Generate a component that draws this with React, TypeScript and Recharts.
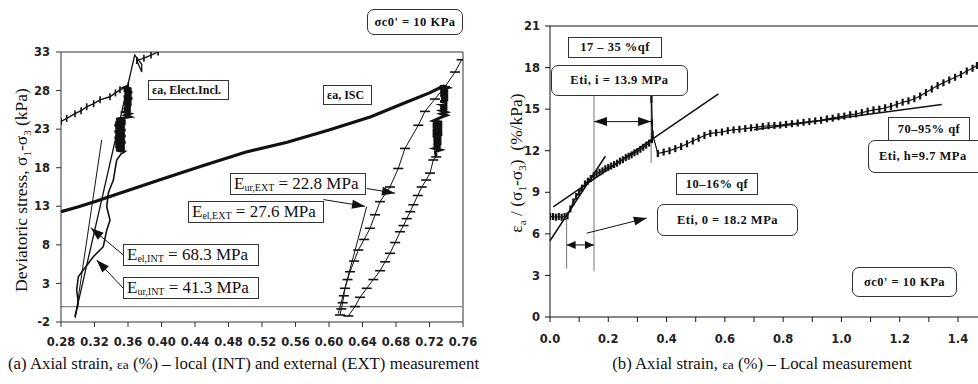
import React from 'react';
import { ComposedChart, ReferenceLine, Scatter, XAxis, YAxis } from 'recharts';

type Pt = { x: number; y: number };
type Seg = [[number, number], [number, number]];

const toPts = (rows: number[][]): Pt[] => rows.map(([x, y]) => ({ x, y }));

// ---------- (a) deviatoric stress vs axial strain ----------
const strainTicksA = [0.28, 0.32, 0.36, 0.4, 0.44, 0.48, 0.52, 0.56, 0.6, 0.64, 0.68, 0.72, 0.76];
const stressTicksA = [-2, 3, 8, 13, 18, 23, 28, 33];

// external (ISC) loading branch
const iscLoad = [
  [0.28, 12.3], [0.3, 12.9], [0.32, 13.6], [0.35, 14.7], [0.4, 16.5], [0.45, 18.3],
  [0.5, 20.0], [0.55, 21.3], [0.6, 22.9], [0.65, 24.6], [0.69, 26.4], [0.72, 27.7], [0.735, 28.5],
];
// inclinometer (INT) first loading, ticked
const inclLoad = [
  [0.28, 24.0], [0.2868, 24.4], [0.2967, 25.0], [0.304, 25.4], [0.3107, 25.9], [0.319, 26.3],
  [0.3266, 26.8], [0.3385, 27.2], [0.345, 27.7], [0.3504, 28.1], [0.3604, 28.6],
];
// INT creep at constant load
const inclCreep = [
  [0.3604, 28.6], [0.356, 28.4], [0.364, 28.2], [0.355, 28.0], [0.365, 27.8], [0.356, 27.6],
  [0.364, 27.4], [0.355, 27.2], [0.365, 27.0], [0.356, 26.8], [0.364, 26.6], [0.355, 26.4],
  [0.364, 26.2], [0.356, 26.0], [0.363, 25.8], [0.355, 25.6], [0.363, 25.4], [0.356, 25.2],
  [0.362, 25.0], [0.357, 24.8], [0.362, 24.6],
  [0.346, 24.3], [0.357, 24.1], [0.345, 23.9], [0.357, 23.7], [0.344, 23.5], [0.356, 23.3],
  [0.345, 23.1], [0.357, 22.9], [0.344, 22.7], [0.356, 22.5], [0.345, 22.3], [0.357, 22.1],
  [0.344, 21.9], [0.356, 21.7], [0.345, 21.5], [0.357, 21.3], [0.345, 21.1], [0.356, 20.9],
  [0.345, 20.7], [0.356, 20.5], [0.346, 20.3], [0.355, 20.1], [0.3525, 19.9],
];
// INT unloading
const inclUnload = [
  [0.3525, 19.9], [0.3465, 19.0], [0.3445, 17.7], [0.3425, 16.4], [0.3385, 15.3], [0.3365, 14.7],
  [0.3346, 12.95], [0.3385, 11.2], [0.3346, 9.9], [0.3305, 7.76], [0.3186, 6.47], [0.3066, 4.74],
  [0.3007, 3.87], [0.2987, 2.15], [0.3007, 0.42], [0.2967, -1.3],
];
// INT reloading up to the peak
const inclReload = [
  [0.2967, -1.3], [0.368, 32.6], [0.3764, 31.4], [0.3764, 30.4], [0.3705, 31.9],
];
const inclTop = [[0.3705, 31.9], [0.379, 32.2], [0.3875, 32.6], [0.396, 33.0]];

// ISC creep at peak load
const extCluster = [
  [0.7325, 28.5], [0.737, 28.6], [0.742, 28.4], [0.733, 28.2], [0.742, 28.0], [0.733, 27.8],
  [0.742, 27.6], [0.733, 27.4], [0.742, 27.2], [0.734, 27.0], [0.742, 26.8], [0.733, 26.6],
  [0.741, 26.4], [0.734, 26.2], [0.741, 26.0], [0.733, 25.8], [0.741, 25.6], [0.734, 25.4],
  [0.74, 25.2], [0.734, 25.0], [0.74, 24.8], [0.735, 24.6],
  [0.725, 24.1], [0.735, 23.9], [0.724, 23.7], [0.735, 23.5], [0.724, 23.3], [0.735, 23.1],
  [0.724, 22.9], [0.735, 22.7], [0.724, 22.5], [0.735, 22.3], [0.724, 22.1], [0.734, 21.9],
  [0.725, 21.7], [0.734, 21.5], [0.725, 21.3], [0.734, 21.1], [0.725, 20.9], [0.733, 20.7],
  [0.726, 20.5], [0.733, 20.3], [0.727, 20.1], [0.728, 19.4],
];
const extUnload = [
  [0.728, 19.4], [0.7245, 19.0], [0.7206, 17.3], [0.716, 16.4], [0.7107, 15.5], [0.706, 14.4],
  [0.7007, 13.2], [0.697, 12.3], [0.6928, 11.4], [0.689, 10.5], [0.6848, 9.7], [0.679, 8.3],
  [0.6728, 6.9], [0.667, 5.8], [0.661, 4.65], [0.653, 3.5], [0.645, 2.37], [0.637, 1.2],
  [0.631, 0.0], [0.623, -1.22],
];
const extReload = [
  [0.6131, -1.09], [0.6147, -0.3], [0.6163, 0.5], [0.6177, 1.4], [0.6191, 2.37], [0.6221, 3.5],
  [0.6251, 4.52], [0.63, 5.9], [0.635, 7.33], [0.642, 8.7], [0.649, 10.15], [0.655, 11.9],
  [0.6609, 13.6], [0.6728, 15.5], [0.6827, 17.9], [0.6907, 20.5], [0.7066, 23.5], [0.7146, 25.3],
  [0.7265, 26.9], [0.7385, 28.5], [0.7505, 30.4], [0.7584, 32.0],
];

const modulusLinesA: Seg[] = [
  [[0.297, -1.5], [0.3286, 21.6]],
  [[0.611, -0.9], [0.645, 12.95]],
];
const urExtLine: Seg = [[0.619, -1.3], [0.761, 32.8]];
const arrowsA: Seg[] = [
  [[0.645, 15.3], [0.6788, 14.7]],
  [[0.5932, 13.87], [0.643, 13.0]],
  [[0.3544, 6.69], [0.3155, 10.2]],
  [[0.3544, 2.37], [0.3226, 6.04]],
];

// ---------- (b) hyperbolic plot, local measurement ----------
const strainTicksB = [0, 0.1, 0.2, 0.3, 0.4, 0.5, 0.6, 0.7, 0.8, 0.9, 1.0, 1.1, 1.2, 1.3, 1.4];
const ratioTicksB = [0, 3, 6, 9, 12, 15, 18, 21];

const ratioData = [
  [0.0, 7.25], [0.01, 7.25], [0.02, 7.2], [0.03, 7.25], [0.04, 7.2], [0.05, 7.25], [0.06, 7.3],
  [0.07, 7.8], [0.08, 8.3], [0.09, 8.7], [0.1, 9.0], [0.11, 9.3], [0.12, 9.6], [0.13, 9.8],
  [0.14, 10.0], [0.15, 10.2], [0.16, 10.35], [0.17, 10.45], [0.18, 10.55], [0.19, 10.7],
  [0.2, 10.8], [0.21, 10.9], [0.22, 11.0], [0.23, 11.1], [0.24, 11.25], [0.25, 11.35],
  [0.26, 11.5], [0.27, 11.6], [0.28, 11.7], [0.29, 11.85], [0.3, 11.95], [0.31, 12.1],
  [0.32, 12.25], [0.33, 12.4], [0.34, 12.55], [0.35, 12.8], [0.35, 14.0], [0.348, 15.7],
  [0.348, 16.2], [0.352, 13.2], [0.37, 11.8], [0.39, 11.9], [0.41, 12.0], [0.43, 12.15],
  [0.45, 12.3], [0.47, 12.5], [0.49, 12.7], [0.51, 12.9], [0.53, 13.1], [0.55, 13.25],
  [0.57, 13.3], [0.59, 13.35], [0.61, 13.45], [0.63, 13.5], [0.65, 13.55], [0.67, 13.6],
  [0.69, 13.65], [0.71, 13.7], [0.73, 13.75], [0.75, 13.8], [0.77, 13.82], [0.79, 13.85],
  [0.81, 13.9], [0.83, 13.95], [0.85, 14.0], [0.87, 14.05], [0.89, 14.1], [0.91, 14.15],
  [0.93, 14.2], [0.95, 14.3], [0.97, 14.35], [0.99, 14.45], [1.01, 14.5], [1.03, 14.6],
  [1.05, 14.65], [1.07, 14.75], [1.09, 14.85], [1.11, 14.95], [1.13, 15.0], [1.15, 15.1],
  [1.17, 15.2], [1.19, 15.35], [1.21, 15.5], [1.23, 15.6], [1.25, 15.75], [1.27, 15.95],
  [1.29, 16.2], [1.31, 16.45], [1.33, 16.7], [1.35, 16.9], [1.37, 17.1], [1.39, 17.3],
  [1.41, 17.5], [1.43, 17.75], [1.45, 17.95], [1.465, 18.15],
];

const tangentsB: Seg[] = [
  [[0, 5.5], [0.19, 11.6]],
  [[0.011, 7.95], [0.578, 16.1]],
  [[0.7, 13.52], [1.344, 15.33]],
];
const guidesB: Seg[] = [
  [[0.057, 3.5], [0.057, 7.3]],
  [[0.151, 3.3], [0.151, 16.1]],
  [[0.347, 11.1], [0.347, 16.4]],
];
const spansB: Seg[] = [
  [[0.151, 14.1], [0.347, 14.1]],
  [[0.057, 5.2], [0.151, 5.2]],
];
const pointerB: Seg = [[0.126, 6.05], [0.332, 7.14]];

const INK = '#111';

const hTick = (p: any) => (
  <line x1={p.cx - 5} x2={p.cx + 5} y1={p.cy} y2={p.cy} stroke={INK} strokeWidth={1.6} />
);
const vTick = (p: any) => (
  <line x1={p.cx} x2={p.cx} y1={p.cy - 3.5} y2={p.cy + 3.5} stroke={INK} strokeWidth={1.6} />
);
const comb = (p: any) => (
  <line x1={p.cx} x2={p.cx} y1={p.cy - 3.5} y2={p.cy + 3.5} stroke={INK} strokeWidth={2.2} />
);
const noMark = () => <g />;

function arrow(both: boolean, len = 13, half = 4.5) {
  return (p: any) => {
    const { x1, y1, x2, y2 } = p;
    const head = (tx: number, ty: number, fx: number, fy: number) => {
      const a = Math.atan2(ty - fy, tx - fx);
      const bx = tx - len * Math.cos(a);
      const by = ty - len * Math.sin(a);
      const pts = `${tx},${ty} ${bx - half * Math.sin(a)},${by + half * Math.cos(a)} ${bx + half * Math.sin(a)},${by - half * Math.cos(a)}`;
      return <polygon points={pts} fill={INK} />;
    };
    return (
      <g>
        <line x1={x1} y1={y1} x2={x2} y2={y2} stroke={INK} strokeWidth={1} />
        {head(x2, y2, x1, y1)}
        {both && head(x1, y1, x2, y2)}
      </g>
    );
  };
}

const seg = (s: Seg) => [{ x: s[0][0], y: s[0][1] }, { x: s[1][0], y: s[1][1] }];

const tickFont = { fontFamily: 'DejaVu Sans', fontSize: 11.5, fontWeight: 'bold', fill: '#222' } as const;
const boxFont: React.CSSProperties = {
  fontFamily: 'Liberation Serif',
  fontWeight: 'bold',
  fontSize: 12.5,
  letterSpacing: 0.5,
  color: INK,
};

function Box(props: {
  left: number; top: number; width: number; height: number; round?: boolean;
  children: React.ReactNode; style?: React.CSSProperties;
}) {
  const { left, top, width, height, round, children, style } = props;
  return (
    <div
      style={{
        position: 'absolute', left, top, width, height, boxSizing: 'border-box',
        border: '1.5px solid #333', borderRadius: round ? 7 : 0, background: '#fff',
        display: 'flex', alignItems: 'center', justifyContent: 'center', whiteSpace: 'nowrap',
        ...boxFont, ...style,
      }}
    >
      {children}
    </div>
  );
}

function EBox(props: { left: number; top: number; sub: string; value: string }) {
  return (
    <Box
      left={props.left} top={props.top} width={136} height={22}
      style={{ fontFamily: 'Liberation Serif', fontWeight: 'normal', fontSize: 17, letterSpacing: 0, justifyContent: 'flex-start', paddingLeft: 3 }}
    >
      E<span style={{ fontSize: 10, position: 'relative', top: 3 }}>{props.sub}</span>
      &nbsp;= {props.value} MPa
    </Box>
  );
}

const rotLabel = (cx: number, cy: number): React.CSSProperties => ({
  position: 'absolute', left: cx, top: cy, transform: 'translate(-50%, -50%) rotate(-90deg)',
  whiteSpace: 'nowrap', fontFamily: 'Liberation Serif', fontSize: 17.5, color: INK,
});

const captionFont: React.CSSProperties = {
  position: 'absolute', top: 354, whiteSpace: 'nowrap', fontFamily: 'Liberation Serif', fontSize: 16.8, color: INK,
};

function PanelA() {
  return (
    <ComposedChart width={490} height={360} margin={{ top: 52, right: 27, bottom: 8, left: 0 }}>
      <XAxis
        type="number" dataKey="x" domain={[0.28, 0.76]} ticks={strainTicksA} interval={0}
        allowDataOverflow tick={tickFont} tickSize={5} tickMargin={11} height={30}
        stroke="#333" tickFormatter={(v: number) => v.toFixed(2)}
      />
      <YAxis
        type="number" dataKey="y" domain={[-2, 33]} ticks={stressTicksA} interval={0}
        allowDataOverflow tick={tickFont} tickSize={5} tickMargin={6} width={61} stroke="#333"
      />
      <ReferenceLine y={33} stroke="#333" />
      <ReferenceLine x={0.76} stroke="#333" />
      <ReferenceLine y={0} stroke="#888" strokeWidth={1.2} />
      {modulusLinesA.map((s, i) => (
        <ReferenceLine key={`m${i}`} segment={seg(s)} stroke={INK} strokeWidth={1} />
      ))}
      <ReferenceLine segment={seg(urExtLine)} stroke={INK} strokeWidth={1.8} />
      <Scatter data={toPts(iscLoad)} line={{ stroke: INK, strokeWidth: 3.2 }} shape={noMark} isAnimationActive={false} />
      <Scatter data={toPts(inclLoad)} line={{ stroke: INK, strokeWidth: 1.4 }} shape={vTick} isAnimationActive={false} />
      <Scatter data={toPts(inclCreep)} line={{ stroke: INK, strokeWidth: 3 }} shape={noMark} isAnimationActive={false} />
      <Scatter data={toPts(inclUnload)} line={{ stroke: INK, strokeWidth: 1.6 }} shape={noMark} isAnimationActive={false} />
      <Scatter data={toPts(inclReload)} line={{ stroke: INK, strokeWidth: 1.3 }} shape={noMark} isAnimationActive={false} />
      <Scatter data={toPts(inclTop)} line={{ stroke: INK, strokeWidth: 1.2 }} shape={vTick} isAnimationActive={false} />
      <Scatter data={toPts(extCluster)} line={{ stroke: INK, strokeWidth: 3 }} shape={noMark} isAnimationActive={false} />
      <Scatter data={toPts(extUnload)} line={{ stroke: INK, strokeWidth: 1 }} shape={hTick} isAnimationActive={false} />
      <Scatter data={toPts(extReload)} line={{ stroke: INK, strokeWidth: 1 }} shape={hTick} isAnimationActive={false} />
      {arrowsA.map((s, i) => (
        <ReferenceLine key={`a${i}`} segment={seg(s)} shape={arrow(false)} />
      ))}
    </ComposedChart>
  );
}

function PanelB() {
  return (
    <ComposedChart width={488} height={360} margin={{ top: 26, right: 0, bottom: 13, left: 0 }}>
      <XAxis
        type="number" dataKey="x" domain={[0, 1.4686]} ticks={strainTicksB} interval={0}
        allowDataOverflow tick={tickFont} tickSize={5} tickMargin={13} height={30} stroke={INK}
        tickFormatter={(v: number) => (Math.round(v * 10) % 2 === 0 ? v.toFixed(1) : '')}
      />
      <YAxis
        type="number" dataKey="y" domain={[0, 21]} ticks={ratioTicksB} interval={0}
        allowDataOverflow tick={tickFont} tickSize={5} tickMargin={5} width={60} stroke={INK}
      />
      <ReferenceLine y={21} stroke={INK} />
      {guidesB.map((s, i) => (
        <ReferenceLine key={`g${i}`} segment={seg(s)} stroke="#777" strokeWidth={1} />
      ))}
      {tangentsB.map((s, i) => (
        <ReferenceLine key={`t${i}`} segment={seg(s)} stroke={INK} strokeWidth={1.5} />
      ))}
      <Scatter data={toPts(ratioData)} line={{ stroke: INK, strokeWidth: 1.2 }} shape={comb} isAnimationActive={false} />
      <ReferenceLine segment={seg(spansB[0])} shape={arrow(true)} />
      <ReferenceLine segment={seg(spansB[1])} shape={arrow(true, 9, 4)} />
      <ReferenceLine segment={seg(pointerB)} shape={arrow(false)} />
    </ComposedChart>
  );
}

export default function App() {
  return (
    <div style={{ position: 'absolute', left: 0, top: 0, width: 978, height: 384, overflow: 'hidden', background: '#fff' }}>
      <div style={{ position: 'absolute', left: 0, top: 0 }}>
        <PanelA />
      </div>
      <div style={{ position: 'absolute', left: 490, top: 0 }}>
        <PanelB />
      </div>

      {/* panel (a) annotations */}
      <Box left={367} top={9} width={96} height={26} round>σc0' = 10 KPa</Box>
      <Box left={148} top={80} width={81} height={20} style={{ justifyContent: 'flex-start', paddingLeft: 3, fontSize: 12, letterSpacing: 0 }}>εa, Elect.Incl.</Box>
      <Box left={323} top={85} width={49} height={20} style={{ justifyContent: 'flex-start', paddingLeft: 3, fontSize: 12, letterSpacing: 0 }}>εa, ISC</Box>
      <EBox left={230} top={173} sub="ur,EXT" value="22.8" />
      <EBox left={188} top={201} sub="el,EXT" value="27.6" />
      <EBox left={123} top={244} sub="el,INT" value="68.3" />
      <EBox left={123} top={277} sub="ur,INT" value="41.3" />
      <div style={rotLabel(22, 190)}>
        Deviatoric stress, σ<sub style={{ fontSize: 11 }}>1</sub>-σ<sub style={{ fontSize: 11 }}>3</sub> (kPa)
      </div>
      <div style={{ ...captionFont, left: 8 }}>
        (a) Axial strain, <span style={{ fontSize: 13.5 }}>εa</span> (%) – local (INT) and external (EXT) measurement
      </div>

      {/* panel (b) annotations */}
      <Box left={568} top={37} width={94} height={21}>17 – 35 %qf</Box>
      <Box left={551} top={65} width={137} height={31} round>Eti, i = 13.9 MPa</Box>
      <Box left={888} top={117} width={82} height={25}>70–95% qf</Box>
      <Box left={868} top={140} width={125} height={33} round style={{ justifyContent: 'flex-start', paddingLeft: 10 }}>Eti, h=9.7 MPa</Box>
      <Box left={676} top={173} width={82} height={22}>10–16% qf</Box>
      <Box left={657} top={204} width={141} height={32} round>Eti, 0 = 18.2 MPa</Box>
      <Box left={852} top={267} width={105} height={30} round>σc0' = 10 KPa</Box>
      <div style={rotLabel(517, 163)}>
        ε<sub style={{ fontSize: 11 }}>a</sub> / (σ<sub style={{ fontSize: 11 }}>1</sub>-σ<sub style={{ fontSize: 11 }}>3</sub>)&nbsp;&nbsp;(%/kPa)
      </div>
      <div style={{ ...captionFont, left: 762, transform: 'translateX(-50%)' }}>
        (b) Axial strain, <span style={{ fontSize: 13.5 }}>εa</span> (%) – Local measurement
      </div>
    </div>
  );
}
